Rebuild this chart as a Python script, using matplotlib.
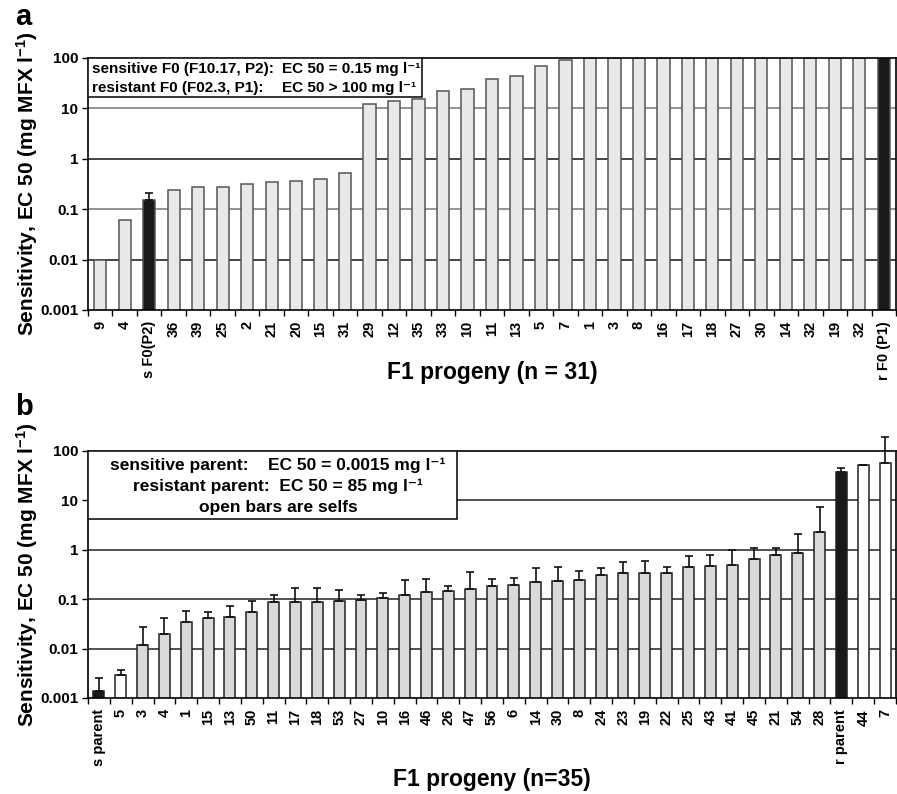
import numpy as np
import matplotlib.pyplot as plt
from matplotlib.patches import Rectangle

plt.rcParams['font.family'] = ['Liberation Sans', 'DejaVu Sans']
plt.rcParams['font.weight'] = 'bold'
plt.rcParams['mathtext.fontset'] = 'custom'
plt.rcParams['mathtext.rm'] = 'Liberation Sans:bold'
plt.rcParams['mathtext.default'] = 'rm'

# 1. Panel a data: EC50 of F1 progeny and F0 parents
labels_a = ['9', '4', 's F0(P2)', '36', '39', '25', '2', '21', '20', '15', '31',
            '29', '12', '35', '33', '10', '11', '13', '5', '7', '1', '3', '8',
            '16', '17', '18', '27', '30', '14', '32', '19', '32', 'r F0 (P1)']
ec50_a = [0.01, 0.06, 0.15, 0.245, 0.27, 0.28, 0.32, 0.34, 0.37, 0.39, 0.53,
          12.4, 13.8, 15.1, 21.8, 24.6, 38, 43.6, 68, 92, 100, 100, 100,
          100, 100, 100, 100, 100, 100, 100, 100, 100, 100]
# upper end of the error bar (0 = no error bar)
err_top_a = [0, 0, 0.21, 0, 0, 0, 0, 0, 0, 0, 0,
             0, 0, 0, 0, 0, 0, 0, 0, 0, 0, 0, 0,
             0, 0, 0, 0, 0, 0, 0, 0, 0, 0]

# 2. Panel b data
labels_b = ['s parent', '5', '3', '4', '1', '15', '13', '50', '11', '17', '18',
            '53', '27', '10', '16', '46', '26', '47', '56', '6', '14', '30',
            '8', '24', '23', '19', '22', '25', '43', '41', '45', '21', '54',
            '28', 'r parent', '44', '7']
ec50_b = [0.0014, 0.0029, 0.0119, 0.0195, 0.0337, 0.042, 0.043, 0.055, 0.0856,
          0.087, 0.087, 0.091, 0.098, 0.108, 0.124, 0.139, 0.143, 0.157, 0.186,
          0.19, 0.225, 0.236, 0.24, 0.31, 0.34, 0.345, 0.345, 0.455, 0.48,
          0.49, 0.66, 0.8, 0.85, 2.3, 37.4, 50.9, 57.5]
err_top_b = [0.0025, 0.00375, 0.027, 0.0425, 0.058, 0.054, 0.073, 0.09, 0.12,
             0.17, 0.17, 0.152, 0.12, 0.136, 0.243, 0.254, 0.184, 0.36, 0.26,
             0.27, 0.43, 0.455, 0.38, 0.42, 0.57, 0.6, 0.455, 0.76, 0.77,
             1.0, 1.08, 1.08, 2.1, 7.24, 45.7, 52.5, 194]
selfs_b = ['5', '44', '7']

ytick_vals = [0.001, 0.01, 0.1, 1, 10, 100]
ytick_labels = ['0.001', '0.01', '0.1', '1', '10', '100']


def draw_panel(ax, labels, values, tops, colors, edge, grid_colors):
    x = np.arange(len(labels))
    values = np.array(values)
    tops = np.array(tops)
    ax.set_yscale('log')
    for y, c in zip([10, 1, 0.1, 0.01], grid_colors):
        ax.axhline(y, color=c, lw=1.1, zorder=1)
    ax.bar(x, values, width=0.5, color=colors, edgecolor=edge, linewidth=1.1, zorder=2)
    m = tops > 0
    ax.errorbar(x[m], values[m], yerr=[np.zeros(m.sum()), tops[m] - values[m]],
                fmt='none', ecolor='#111111', elinewidth=1.2, capsize=3,
                capthick=1.2, zorder=3, clip_on=False)
    ax.set_xlim(-0.5, len(labels) - 0.5)
    ax.set_ylim(0.001, 100)
    ax.yaxis.set_minor_locator(plt.NullLocator())
    ax.set_yticks(ytick_vals)
    ax.set_yticklabels(ytick_labels, fontsize=11, fontweight='bold')
    ax.set_xticks(x)
    ax.set_xticklabels(labels, rotation=90, fontsize=10.5, fontweight='bold')
    ax.set_xticks(np.arange(len(labels) + 1) - 0.5, minor=True)
    ax.tick_params(axis='x', which='major', length=0, pad=8)
    ax.tick_params(axis='x', which='minor', length=4, width=1, direction='out')
    ax.tick_params(axis='y', length=4, width=1, pad=3)
    for s in ax.spines.values():
        s.set_linewidth(1.2)
    ax.set_ylabel('Sensitivity, EC 50 (mg MFX l$^{-1}$)', fontsize=15,
                  fontweight='bold', labelpad=0)


fig = plt.figure(figsize=(8.97, 7.94), dpi=100)
ax_a = fig.add_axes([0.0981, 0.6096, 0.9008, 0.3174])
ax_b = fig.add_axes([0.0981, 0.121, 0.9008, 0.311])

# 3. Panel a
colors_a = ['#1a1a1a' if 'F0' in l else '#e8e8e8' for l in labels_a]
draw_panel(ax_a, labels_a, ec50_a, err_top_a, colors_a, '#555555',
           ['#777777', '#111111', '#777777', '#111111'])
ax_a.add_patch(Rectangle((0, 0.845), 0.413, 0.155, transform=ax_a.transAxes,
                         facecolor='white', edgecolor='black', lw=1.1, zorder=4))
ax_a.text(0.005, 0.918, 'sensitive F0 (F10.17, P2):\nresistant F0 (F02.3, P1):',
          transform=ax_a.transAxes, fontsize=11, va='center', linespacing=1.42,
          zorder=5)
ax_a.text(0.240, 0.918, 'EC 50 = 0.15 mg l⁻¹\nEC 50 > 100 mg l⁻¹',
          transform=ax_a.transAxes, fontsize=11, va='center', linespacing=1.42,
          zorder=5)
ax_a.set_xlabel('F1 progeny (n = 31)', fontsize=16.5, fontweight='bold')
ax_a.xaxis.set_label_coords(0.5, -0.25)
ax_a.xaxis.label.set_va('center')

# 4. Panel b
colors_b = []
for l in labels_b:
    if 'parent' in l:
        colors_b.append('#1a1a1a')
    elif l in selfs_b:
        colors_b.append('white')
    else:
        colors_b.append('#d9d9d9')
draw_panel(ax_b, labels_b, ec50_b, err_top_b, colors_b, '#222222',
           ['#222222', '#222222', '#222222', '#222222'])
ax_b.add_patch(Rectangle((0, 0.725), 0.457, 0.275, transform=ax_b.transAxes,
                         facecolor='white', edgecolor='black', lw=1.1, zorder=4))
box_text = ('sensitive parent:    EC 50 = 0.0015 mg l⁻¹\n'
            'resistant parent:  EC 50 = 85 mg l⁻¹\n'
            'open bars are selfs')
ax_b.text(0.235, 0.858, box_text, transform=ax_b.transAxes, fontsize=12.5,
          ha='center', va='center', multialignment='center', linespacing=1.48,
          zorder=5)
ax_b.set_xlabel('F1 progeny (n=35)', fontsize=16.5, fontweight='bold')
ax_b.xaxis.set_label_coords(0.5, -0.332)
ax_b.xaxis.label.set_va('center')

# panel letters
fig.text(0.017, 0.9685, 'a', fontsize=21, fontweight='bold')
fig.text(0.017, 0.477, 'b', fontsize=21, fontweight='bold')

plt.savefig('out.png', dpi=100)
